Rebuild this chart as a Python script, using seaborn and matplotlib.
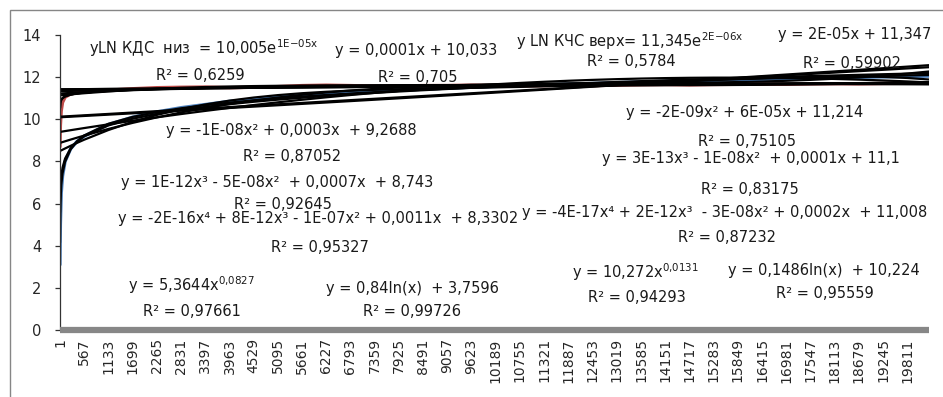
import numpy as np
import pandas as pd
import matplotlib
matplotlib.use("Agg")
import matplotlib.pyplot as plt
from matplotlib.patches import Rectangle
import seaborn as sns

# ---------------- data ----------------
x_pos = [1, 10, 30, 60, 120, 250, 400, 567, 1133, 1699, 2265, 2831, 3397, 3963,
         4529, 5095, 5661, 6227, 6793, 7359, 7925, 8491, 9057, 9623, 10189,
         10755, 11321, 11887, 12453, 13019, 13585, 14151, 14717, 15283, 15849,
         16415, 16981, 17547, 18113, 18679, 19245, 19811, 20320]

kds_low = [3.1, 5.0, 6.5, 7.3, 8.0, 8.6, 8.95, 9.2, 9.75, 10.1, 10.35, 10.55,
           10.7, 10.85, 10.95, 11.05, 11.13, 11.2, 11.27, 11.33, 11.38, 11.43,
           11.48, 11.52, 11.56, 11.6, 11.63, 11.67, 11.7, 11.74, 11.77, 11.8,
           11.82, 11.85, 11.87, 11.9, 11.92, 11.95, 11.97, 11.99, 12.01, 12.03,
           12.05]

kchs_up = [8.7, 9.7, 10.4, 10.8, 11.05, 11.2, 11.27, 11.3, 11.38, 11.45, 11.5,
           11.52, 11.53, 11.5, 11.52, 11.55, 11.6, 11.62, 11.6, 11.57, 11.58,
           11.6, 11.6, 11.62, 11.6, 11.58, 11.6, 11.62, 11.6, 11.62, 11.64,
           11.65, 11.63, 11.65, 11.66, 11.67, 11.66, 11.68, 11.69, 11.68, 11.7,
           11.71, 11.72]

x_ticks = [1, 567, 1133, 1699, 2265, 2831, 3397, 3963, 4529, 5095, 5661, 6227,
           6793, 7359, 7925, 8491, 9057, 9623, 10189, 10755, 11321, 11887,
           12453, 13019, 13585, 14151, 14717, 15283, 15849, 16415, 16981,
           17547, 18113, 18679, 19245, 19811]
x_tick_labels = ["1", "567", "1133", "1699", "2265", "2831", "3397", "3963",
                 "4529", "5095", "5661", "6227", "6793", "7359", "7925", "8491",
                 "9057", "9623", "10189", "10755", "11321", "11887", "12453",
                 "13019", "13585", "14151", "14717", "15283", "15849", "16415",
                 "16981", "17547", "18113", "18679", "19245", "19811"]
y_ticks = [0, 2, 4, 6, 8, 10, 12, 14]

labels_kds = ["yLN КДС  низ  = 10,005e$^{\\mathregular{1E{-}05x}}$", "R² = 0,6259",
              "y = 0,0001x + 10,033", "R² = 0,705",
              "y = -1E-08x² + 0,0003x  + 9,2688", "R² = 0,87052",
              "y = 1E-12x³ - 5E-08x²  + 0,0007x  + 8,743", "R² = 0,92645",
              "y = -2E-16x⁴ + 8E-12x³ - 1E-07x² + 0,0011x  + 8,3302", "R² = 0,95327",
              "y = 5,3644x$^{\\mathregular{0{,}0827}}$", "R² = 0,97661",
              "y = 0,84ln(x)  + 3,7596", "R² = 0,99726"]
labels_kchs = ["y LN КЧС верх= 11,345e$^{\\mathregular{2E{-}06x}}$", "R² = 0,5784",
               "y = 2E-05x + 11,347", "R² = 0,59902",
               "y = -2E-09x² + 6E-05x + 11,214", "R² = 0,75105",
               "y = 3E-13x³ - 1E-08x²  + 0,0001x + 11,1", "R² = 0,83175",
               "y = -4E-17x⁴ + 2E-12x³  - 3E-08x² + 0,0002x  + 11,008", "R² = 0,87232",
               "y = 10,272x$^{\\mathregular{0{,}0131}}$", "R² = 0,94293",
               "y = 0,1486ln(x)  + 10,224", "R² = 0,95559"]

# label centre positions in pixels (x from left, y from top)
pos_kds = [(204, 48), (200, 75), (416, 50), (418, 77), (291, 130), (292, 157),
           (277, 183), (283, 205), (318, 219), (320, 247), (192, 285), (192, 312),
           (412, 288), (412, 312)]
pos_kchs = [(630, 41), (631, 62), (855, 35), (852, 63), (745, 113), (747, 142),
            (751, 159), (750, 190), (725, 213), (727, 237), (636, 272), (637, 298),
            (824, 270), (825, 293)]

# ---------------- style ----------------
sns.set_theme(style="white")
plt.rcParams["font.family"] = ["DejaVu Sans"]

W, H = 943, 397
fig = plt.figure(figsize=(W / 100, H / 100), dpi=100)
fig.patch.set_facecolor("white")
ax = fig.add_axes([60 / W, (H - 330) / H, (929 - 60) / W, (330 - 35) / H])

x = np.asarray(x_pos, float)
df = pd.DataFrame({"x": x_pos, "КДС низ": kds_low, "КЧС верх": kchs_up})

sns.lineplot(data=df, x="x", y="КДС низ", ax=ax, color="#4a7ebb", lw=2.4,
             estimator=None, sort=False, legend=False)
sns.lineplot(data=df, x="x", y="КЧС верх", ax=ax, color="#be4b48", lw=2.4,
             estimator=None, sort=False, legend=False)


def fit_weights(xv):
    w = np.empty_like(xv)
    w[1:-1] = (xv[2:] - xv[:-2]) / 2
    w[0] = (xv[1] - xv[0]) / 2
    w[-1] = (xv[-1] - xv[-2]) / 2
    return np.sqrt(w)


def trendlines(xv, yv):
    yv = np.asarray(yv, float)
    w = fit_weights(xv)
    xs = xv / 1000.0
    curves = []
    b = np.polyfit(xs, np.log(yv), 1, w=w)
    curves.append(np.exp(np.polyval(b, xs)))
    for d in (1, 2, 3, 4):
        curves.append(np.polyval(np.polyfit(xs, yv, d, w=w), xs))
    b = np.polyfit(np.log(xv), np.log(yv), 1, w=w)
    curves.append(np.exp(np.polyval(b, np.log(xv))))
    b = np.polyfit(np.log(xv), yv, 1, w=w)
    curves.append(np.polyval(b, np.log(xv)))
    return curves


for series in (kds_low, kchs_up):
    for c in trendlines(x, series):
        sns.lineplot(x=x, y=c, ax=ax, color="black", lw=1.6,
                     estimator=None, sort=False, legend=False)

ax.set_xlim(1, 20320)
ax.set_ylim(0, 14)
ax.set_xticks(x_ticks)
ax.set_xticklabels(x_tick_labels, rotation=90)
ax.set_yticks(y_ticks)
ax.set_yticklabels([str(v) for v in y_ticks])
ax.set_xlabel("")
ax.set_ylabel("")

for s in ("top", "right"):
    ax.spines[s].set_visible(False)
ax.spines["left"].set_color("#333333")
ax.spines["left"].set_linewidth(0.9)
ax.spines["bottom"].set_color("#878787")
ax.spines["bottom"].set_linewidth(4.5)
ax.spines["bottom"].set_capstyle("butt")

ax.tick_params(axis="y", direction="out", length=3.5, width=0.9, color="#333333",
               labelsize=10.5, pad=10, labelcolor="#262626", left=True)
ax.tick_params(axis="x", length=0, labelsize=10, pad=6, labelcolor="#262626")

# outer chart border (cut off on the right and bottom in the reference)
fig.patches.append(Rectangle((10 / W, -0.5), 2.0, 0.5 + 1 - 10 / H,
                             transform=fig.transFigure, fill=False,
                             edgecolor="#868686", lw=1.0))

for txt, (px, py) in list(zip(labels_kds, pos_kds)) + list(zip(labels_kchs, pos_kchs)):
    fig.text(px / W, 1 - py / H, txt, ha="center", va="center",
             fontsize=10.5, color="#1a1a1a")

fig.savefig("out.png", dpi=100, facecolor="white")
